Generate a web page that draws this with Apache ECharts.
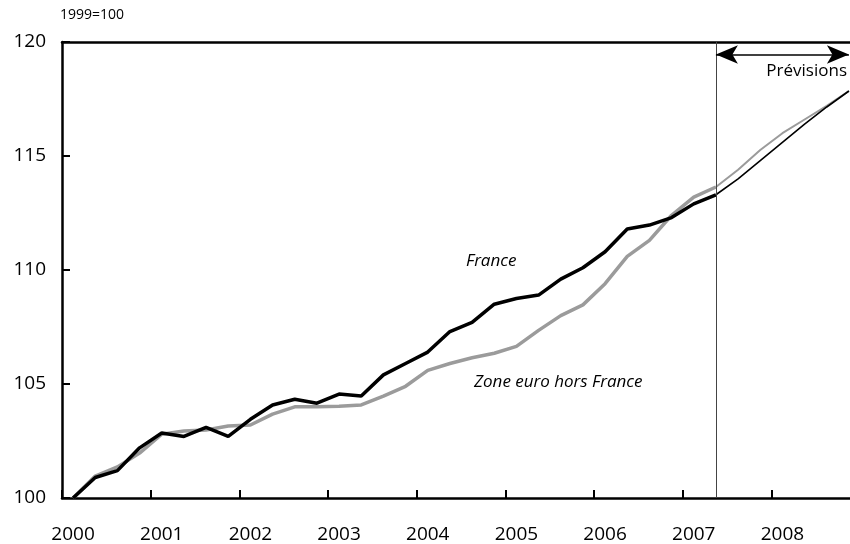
<!DOCTYPE html>
<html>
<head>
<meta charset="utf-8">
<script src="https://cdn.jsdelivr.net/npm/echarts@6/dist/echarts.min.js"></script>
<style>
  html, body { margin: 0; padding: 0; background: #fff; }
  #main { width: 850px; height: 544px; }
</style>
</head>
<body>
<div id="main"></div>
<script>
// trimestres 2000T1 .. 2008T4
var years = ['2000', '2001', '2002', '2003', '2004', '2005', '2006', '2007', '2008'];
var quarters = [];
for (var y = 0; y < years.length; y++) {
    for (var q = 1; q <= 4; q++) quarters.push(years[y] + 'T' + q);
}
var france = [100.0, 100.9, 101.2, 102.2, 102.85, 102.7, 103.1, 102.7,
              103.45, 104.08, 104.33, 104.16, 104.56, 104.47, 105.4, 105.9,
              106.4, 107.3, 107.7, 108.5, 108.75, 108.9, 109.6, 110.1,
              110.8, 111.8, 111.97, 112.3, 112.9, 113.3, 114.0, 114.8,
              115.6, 116.4, 117.15, 117.85];
var zoneEuro = [100.0, 100.96, 101.36, 101.97, 102.8, 102.94, 102.98, 103.16,
                103.2, 103.68, 104.0, 104.0, 104.02, 104.08, 104.47, 104.9,
                105.6, 105.9, 106.15, 106.35, 106.65, 107.35, 108.0, 108.47,
                109.4, 110.6, 111.3, 112.4, 113.2, 113.64, 114.4, 115.26,
                116.0, 116.6, 117.2, 117.85];
var forecastStart = 29; // 2007T2
var yTicks = [100, 105, 110, 115, 120];

function part(arr, from, to) {
    return arr.map(function (v, i) { return (i >= from && i <= to) ? v : null; });
}

var FONT = '"Open Sans", "DejaVu Sans", sans-serif';
var myChart = echarts.init(document.getElementById('main'));

var option = {
    animation: false,
    grid: { left: 62, top: 42, width: 798, bottom: 46, containLabel: false, outerBoundsMode: 'none' },
    xAxis: [{
        type: 'category',
        data: quarters,
        boundaryGap: true,
        axisLine: { show: true, lineStyle: { color: '#000', width: 2.5 } },
        axisTick: { show: true, inside: true, length: 8, interval: 3, lineStyle: { color: '#000', width: 2 } },
        axisLabel: {
            interval: 3, margin: 27, color: '#000', fontSize: 19, fontFamily: FONT,
            formatter: function (v) { return v.slice(0, 4); }
        },
        splitLine: { show: false }
    }, {
        type: 'category',
        data: quarters,
        position: 'top',
        axisLine: { show: true, lineStyle: { color: '#000', width: 2.5 } },
        axisTick: { show: false },
        axisLabel: { show: false }
    }],
    yAxis: {
        type: 'value',
        min: yTicks[0], max: yTicks[yTicks.length - 1], interval: 5,
        axisLine: { show: true, lineStyle: { color: '#000', width: 2.5 } },
        axisTick: { show: true, inside: true, length: 8, lineStyle: { color: '#000', width: 2 } },
        axisLabel: { margin: 16, color: '#000', fontSize: 19, fontFamily: FONT },
        splitLine: { show: false }
    },
    series: [{
        name: 'Zone euro hors France',
        type: 'line',
        data: part(zoneEuro, 0, forecastStart),
        symbol: 'none',
        lineStyle: { color: '#9b9b9b', width: 3.5 },
        z: 2
    }, {
        name: 'Zone euro prev',
        type: 'line',
        data: part(zoneEuro, forecastStart, quarters.length - 1),
        symbol: 'none',
        lineStyle: { color: '#9b9b9b', width: 2 },
        z: 2
    }, {
        name: 'France',
        type: 'line',
        data: part(france, 0, forecastStart),
        symbol: 'none',
        lineStyle: { color: '#000', width: 3.5 },
        z: 3,
        markLine: {
            silent: true,
            symbol: 'none',
            label: { show: false },
            lineStyle: { color: '#444', width: 1, type: 'solid' },
            data: [{ xAxis: forecastStart }]
        }
    }, {
        name: 'France prev',
        type: 'line',
        data: part(france, forecastStart, quarters.length - 1),
        symbol: 'none',
        lineStyle: { color: '#000', width: 1.6 },
        z: 3,
        markLine: {
            silent: true,
            symbol: ['arrow', 'arrow'],
            symbolSize: [14, 22],
            label: { show: false },
            lineStyle: { color: '#000', width: 1.5, type: 'solid' },
            data: [[{ coord: [forecastStart, 119.45] }, { coord: [quarters.length - 1, 119.45] }]]
        }
    }],
    graphic: [{
        type: 'text', left: 60, top: 8,
        style: { text: '1999=100', fontSize: 14, fontFamily: FONT, fill: '#000' }
    }, {
        type: 'text', right: 3, top: 63,
        style: { text: 'Prévisions', fontSize: 17, fontFamily: FONT, fill: '#000' }
    }, {
        type: 'text', left: 466, top: 253,
        style: { text: 'France', fontSize: 17, fontStyle: 'italic', fontFamily: FONT, fill: '#000' }
    }, {
        type: 'text', left: 474, top: 374,
        style: { text: 'Zone euro hors France', fontSize: 17, fontStyle: 'italic', fontFamily: FONT, fill: '#000' }
    }]
};
myChart.setOption(option);
</script>
</body>
</html>
